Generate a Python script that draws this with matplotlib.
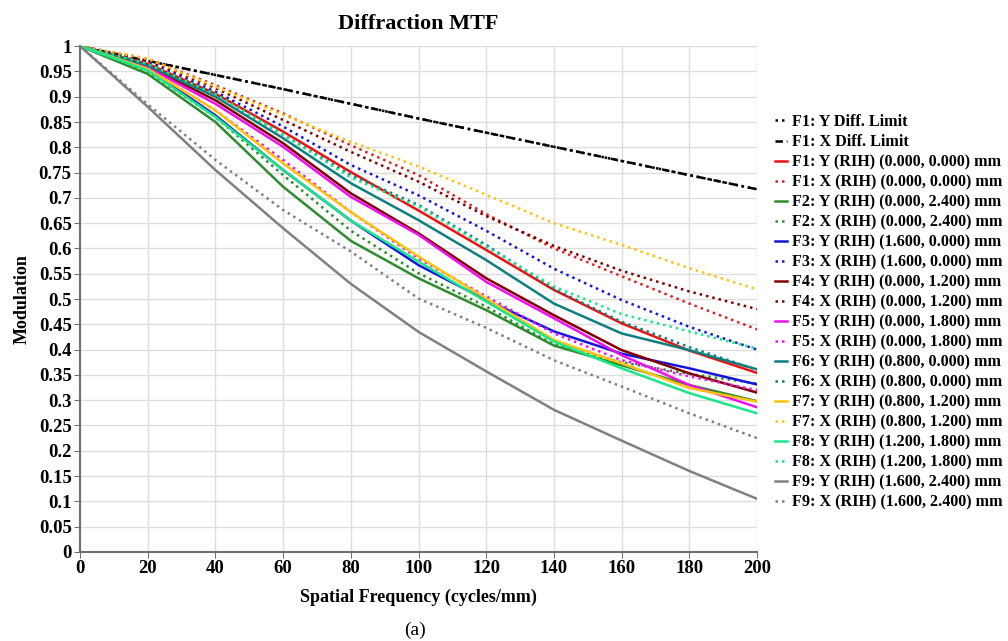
import numpy as np
import matplotlib
matplotlib.use("Agg")
import matplotlib.pyplot as plt

plt.rcParams['font.family'] = ['Liberation Serif', 'DejaVu Serif']

freq = [0, 20, 40, 60, 80, 100, 120, 140, 160, 180, 200]

diff_y = [1.000, 0.971, 0.943, 0.915, 0.886, 0.857, 0.829, 0.801, 0.773, 0.745, 0.717]
diff_x = [1.000, 0.971, 0.943, 0.915, 0.886, 0.857, 0.829, 0.801, 0.773, 0.745, 0.717]
f1_y = [1, 0.965, 0.906, 0.831, 0.751, 0.675, 0.597, 0.518, 0.452, 0.398, 0.354]
f1_x = [1, 0.975, 0.923, 0.867, 0.804, 0.745, 0.668, 0.600, 0.545, 0.491, 0.440]
f2_y = [1, 0.945, 0.850, 0.722, 0.615, 0.541, 0.478, 0.408, 0.369, 0.330, 0.298]
f2_x = [1, 0.950, 0.860, 0.745, 0.635, 0.551, 0.485, 0.410, 0.375, 0.352, 0.333]
f3_y = [1, 0.955, 0.863, 0.755, 0.655, 0.567, 0.498, 0.436, 0.392, 0.363, 0.331]
f3_x = [1, 0.970, 0.910, 0.841, 0.765, 0.705, 0.635, 0.560, 0.498, 0.445, 0.400]
f4_y = [1, 0.960, 0.893, 0.808, 0.709, 0.630, 0.541, 0.468, 0.399, 0.353, 0.315]
f4_x = [1, 0.972, 0.917, 0.854, 0.791, 0.732, 0.664, 0.605, 0.556, 0.515, 0.480]
f5_y = [1, 0.958, 0.886, 0.801, 0.702, 0.627, 0.534, 0.462, 0.389, 0.330, 0.286]
f5_x = [1, 0.955, 0.873, 0.775, 0.672, 0.580, 0.505, 0.432, 0.379, 0.347, 0.320]
f6_y = [1, 0.962, 0.900, 0.818, 0.729, 0.656, 0.577, 0.491, 0.432, 0.399, 0.361]
f6_x = [1, 0.965, 0.905, 0.825, 0.745, 0.686, 0.607, 0.520, 0.455, 0.405, 0.360]
f7_y = [1, 0.955, 0.873, 0.768, 0.672, 0.584, 0.501, 0.419, 0.373, 0.324, 0.297]
f7_x = [1, 0.975, 0.920, 0.864, 0.811, 0.762, 0.706, 0.650, 0.607, 0.561, 0.519]
f8_y = [1, 0.952, 0.860, 0.755, 0.655, 0.574, 0.495, 0.416, 0.363, 0.314, 0.274]
f8_x = [1, 0.965, 0.905, 0.825, 0.740, 0.683, 0.603, 0.525, 0.470, 0.436, 0.402]
f9_y = [1, 0.880, 0.755, 0.640, 0.530, 0.435, 0.357, 0.281, 0.220, 0.160, 0.105]
f9_x = [1, 0.885, 0.775, 0.676, 0.594, 0.501, 0.443, 0.379, 0.327, 0.274, 0.225]

labels = [
    "F1: Y Diff. Limit", "F1: X Diff. Limit",
    "F1: Y (RIH) (0.000, 0.000) mm", "F1: X (RIH) (0.000, 0.000) mm",
    "F2: Y (RIH) (0.000, 2.400) mm", "F2: X (RIH) (0.000, 2.400) mm",
    "F3: Y (RIH) (1.600, 0.000) mm", "F3: X (RIH) (1.600, 0.000) mm",
    "F4: Y (RIH) (0.000, 1.200) mm", "F4: X (RIH) (0.000, 1.200) mm",
    "F5: Y (RIH) (0.000, 1.800) mm", "F5: X (RIH) (0.000, 1.800) mm",
    "F6: Y (RIH) (0.800, 0.000) mm", "F6: X (RIH) (0.800, 0.000) mm",
    "F7: Y (RIH) (0.800, 1.200) mm", "F7: X (RIH) (0.800, 1.200) mm",
    "F8: Y (RIH) (1.200, 1.800) mm", "F8: X (RIH) (1.200, 1.800) mm",
    "F9: Y (RIH) (1.600, 2.400) mm", "F9: X (RIH) (1.600, 2.400) mm",
]
series = [diff_y, diff_x, f1_y, f1_x, f2_y, f2_x, f3_y, f3_x, f4_y, f4_x,
          f5_y, f5_x, f6_y, f6_x, f7_y, f7_x, f8_y, f8_x, f9_y, f9_x]
colors = ["black", "black", "#ee1111", "#dd2222", "#2e8b2e", "#2e8b2e",
          "#1515dd", "#1515dd", "#800000", "#800000", "#ee11ee", "#ee11ee",
          "#0e7f7f", "#0e7f7f", "#ffc20e", "#ffc20e", "#18e88a", "#18e88a",
          "#808080", "#808080"]
dot = (0, (1, 1.6))
styles = [dot, (0, (3, 1.5, 1, 1.5))] + ["-", dot] * 9

fig = plt.figure(figsize=(10.08, 6.41), dpi=100)
ax = fig.add_axes([0.0794, 0.139, 0.6716, 0.789])

handles = []
for ys, c, ls, lab in zip(series, colors, styles, labels):
    h, = ax.plot(freq, ys, color=c, linestyle=ls, linewidth=1.8, label=lab)
    handles.append(h)

ax.set_xlim(0, 200)
ax.set_ylim(0, 1)
ax.set_xticks(np.arange(0, 201, 20))
yt = np.round(np.arange(0, 1.0001, 0.05), 2)
ax.set_yticks(yt)
ax.set_yticklabels([("%g" % v) for v in yt])
ax.grid(True, color="#dddddd", linewidth=1)
ax.set_axisbelow(True)
for s in ["top", "right"]:
    ax.spines[s].set_visible(False)
for s in ["left", "bottom"]:
    ax.spines[s].set_color("#707070")
    ax.spines[s].set_linewidth(1.5)
ax.tick_params(axis="both", length=4, color="#707070", labelsize=13.5, pad=2)
for t in ax.get_xticklabels() + ax.get_yticklabels():
    t.set_fontweight("bold")

ax.set_title("Diffraction MTF", fontsize=16, fontweight="bold", pad=12)
ax.set_xlabel("Spatial Frequency (cycles/mm)", fontsize=13, fontweight="bold", labelpad=8)
ax.set_ylabel("Modulation", fontsize=13, fontweight="bold", labelpad=6)
fig.text(0.412, 0.01, "(a)", fontsize=14, ha="center")

fig.legend(handles=handles, labels=labels, loc="upper left",
           bbox_to_anchor=(0.762, 0.832), frameon=False,
           prop={"weight": "bold", "size": 11.6}, handlelength=0.8,
           handletextpad=0.3, labelspacing=0.25, borderaxespad=0)

fig.savefig("out.png", dpi=100)
